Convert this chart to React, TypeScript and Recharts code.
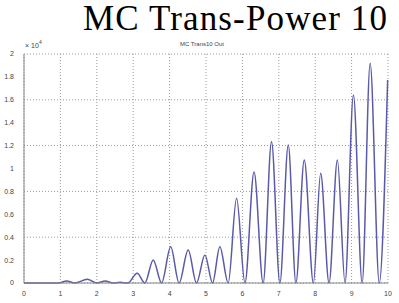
import React from 'react';
import { LineChart, Line, XAxis, YAxis, CartesianGrid } from 'recharts';

// peaks and troughs (y in units of 1e4)
const times = [
  0, 0.5, 0.95, 1.17, 1.4, 1.74, 2.0, 2.23, 2.45, 2.64, 2.85, 3.11, 3.32, 3.55, 3.78,
  4.03, 4.26, 4.51, 4.74, 4.97, 5.18, 5.38, 5.61, 5.84, 6.07, 6.32, 6.57, 6.8, 7.03,
  7.26, 7.47, 7.7, 7.95, 8.15, 8.38, 8.61, 8.82, 9.05, 9.29, 9.51, 9.76, 9.99,
];
const outValues = [
  0, 0, 0, 0.017, 0, 0.032, 0, 0.017, 0, 0.006, 0, 0.085, 0, 0.2, 0,
  0.317, 0, 0.288, 0, 0.245, 0, 0.317, 0, 0.74, 0, 0.97, 0, 1.234, 0,
  1.205, 0, 1.074, 0, 0.958, 0, 1.074, 0, 1.642, 0, 1.919, 0, 1.773,
];
const xTicks = [0, 1, 2, 3, 4, 5, 6, 7, 8, 9, 10];
const yTicks = [0, 0.2, 0.4, 0.6, 0.8, 1, 1.2, 1.4, 1.6, 1.8, 2];

const data = times.map((t, i) => ({ t, v: outValues[i] }));

const tickStyle = { fontSize: 7, fill: '#444', fontFamily: 'Liberation Sans, Arial, sans-serif' };

export default function App() {
  return (
    <div style={{ position: 'fixed', left: 0, top: 0, width: 399, height: 303, background: '#fff' }}>
      <LineChart
        width={399}
        height={303}
        data={data}
        margin={{ top: 54, right: 11, left: 0, bottom: 0 }}
      >
        <CartesianGrid stroke="#999" strokeDasharray="1 2" />
        <XAxis
          dataKey="t"
          type="number"
          domain={[0, 10]}
          ticks={xTicks}
          height={20}
          tick={tickStyle}
          tickLine={false}
          tickMargin={2}
          axisLine={{ stroke: '#888' }}
        />
        <XAxis xAxisId="top" orientation="top" dataKey="t" type="number" domain={[0, 10]} height={0} tick={false} axisLine={{ stroke: '#888' }} />
        <YAxis
          type="number"
          domain={[0, 2]}
          ticks={yTicks}
          width={24}
          tick={tickStyle}
          tickLine={false}
          tickMargin={4}
          axisLine={{ stroke: '#888' }}
        />
        <YAxis yAxisId="right" orientation="right" domain={[0, 2]} width={0} tick={false} axisLine={{ stroke: '#888' }} />
        <Line
          type="monotone"
          dataKey="v"
          stroke="#5a5aaa"
          strokeWidth={1.5}
          dot={false}
          isAnimationActive={false}
        />
      </LineChart>
      <svg width={399} height={303} style={{ position: 'absolute', left: 0, top: 0, pointerEvents: 'none' }}>
        <text
          x={83}
          y={30}
          textLength={304}
          lengthAdjust="spacing"
          fontFamily="Liberation Serif, Times New Roman, serif"
          fontSize={35}
          fill="#000"
        >
          MC Trans-Power 10
        </text>
        <text x={202} y={46} textAnchor="middle" fontFamily="Liberation Sans, Arial, sans-serif" fontSize={6} fill="#444">
          MC Trans10 Out
        </text>
        <text x={25} y={48} fontFamily="Liberation Sans, Arial, sans-serif" fontSize={7} fill="#444">
          × 10
        </text>
        <text x={39} y={44} fontFamily="Liberation Sans, Arial, sans-serif" fontSize={5} fill="#444">
          4
        </text>
      </svg>
    </div>
  );
}
